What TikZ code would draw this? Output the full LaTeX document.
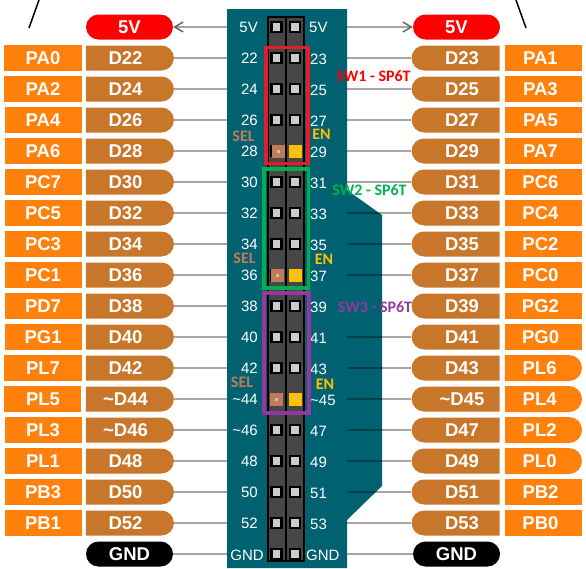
\documentclass[tikz,border=0pt]{standalone}
\usepackage{fontspec}
\setmainfont{Liberation Sans}
\newfontfamily\swfont{Carlito}
\usetikzlibrary{positioning,arrows.meta,shapes.misc}
\definecolor{board}{RGB}{0,98,112}
\definecolor{dpin}{RGB}{200,118,42}
\definecolor{port}{RGB}{255,128,10}
\definecolor{selc}{RGB}{192,124,88}
\definecolor{enc}{RGB}{255,192,0}
\definecolor{swr}{RGB}{228,28,44}
\definecolor{swg}{RGB}{0,176,80}
\definecolor{swp}{RGB}{148,55,160}
\tikzset{
  pt/.style={fill=port, text=white, font=\fontsize{18.5}{18}\selectfont\bfseries, inner sep=0pt, minimum width=77pt, minimum height=26pt},
  prt/.style={pt, execute at begin node=\hspace*{-6pt}},
  ptr/.style={rounded rectangle, rounded rectangle west arc=none, fill=port, text=white, font=\fontsize{18.5}{18}\selectfont\bfseries, inner sep=0pt, minimum width=77pt, minimum height=26pt, execute at begin node=\hspace*{-6pt}},
  dl/.style={rounded rectangle, rounded rectangle west arc=none, fill=dpin, text=white, font=\fontsize{18.5}{18}\selectfont\bfseries, inner sep=0pt, minimum width=88pt, minimum height=25pt, execute at begin node=\hspace*{-7pt}},
  dr/.style={rounded rectangle, rounded rectangle east arc=none, fill=dpin, text=white, font=\fontsize{18.5}{18}\selectfont\bfseries, inner sep=0pt, minimum width=88pt, minimum height=25pt, execute at begin node=\hspace*{11pt}},
  pw/.style={rounded rectangle, text=white, font=\fontsize{18.5}{18}\selectfont\bfseries, inner sep=0pt, minimum width=87pt, minimum height=25pt},
  num/.style={text=white, font=\fontsize{15}{15}\selectfont, inner sep=0pt},
  pinb/.style={draw=black, line width=2.5pt, fill=black!20, inner sep=0pt, minimum size=10pt},
  pad/.style={inner sep=0pt, minimum size=13pt},
  dotb/.style={fill=black!25, inner sep=0pt, minimum size=3pt},
  strip/.style={draw=black, line width=1.5pt, fill=black!72},
  sw/.style={line width=3.5pt},
  swt/.style={font=\swfont\fontsize{16}{16}\selectfont\bfseries, inner sep=0pt},
  wire/.style={draw=black!35, line width=1.5pt},
  wb/.style={wire, blend mode=multiply},
  pwa/.style={wire, -{Straight Barb[length=8.5pt,width=10pt,black!60]}},
}
\begin{document}
\begin{tikzpicture}[x=1pt,y=-1pt]
\useasboundingbox (0,0) rectangle (586,568);
% board and headers
\fill[board] (227,9) -- (347,9) -- (347,190) -- (382,215) -- (382,486) -- (347,520) -- (347,568) -- (227,568) -- cycle;
\draw[strip] (268,17) rectangle (285.5,561);
\draw[strip] (286.5,17) rectangle (304,561);
\foreach \i in {0,...,17} {
  \pgfmathtruncatemacro\y{27+31*\i}
  \node[pinb] (pa\i) at (276.5,\y) {};
  \node[pinb] (pb\i) at (295,\y) {};
}
% SEL and EN pads
\foreach \i/\xa in {4/278.5,8/277.5,12/276.5} {
  \pgfmathtruncatemacro\y{27+31*\i}
  \node[pad, fill=selc] (sl\i) at (\xa,\y) {};
  \node[dotb] (sd\i) at (sl\i.center) {};
  \node[pad, fill=enc] (en\i) at (295.5,\y) {};
  \node[dotb, minimum height=1.5pt] (ed\i) at (en\i.center) {};
}
% rows
\foreach \i/\na/\pa/\da/\nb/\db/\pb/\st in {
  1/22/PA0/D22/23/D23/PA1/prt, 2/24/PA2/D24/25/D25/PA3/prt, 3/26/PA4/D26/27/D27/PA5/prt,
  4/28/PA6/D28/29/D29/PA7/prt, 5/30/PC7/D30/31/D31/PC6/prt, 6/32/PC5/D32/33/D33/PC4/prt,
  7/34/PC3/D34/35/D35/PC2/prt, 8/36/PC1/D36/37/D37/PC0/prt, 9/38/PD7/D38/39/D39/PG2/prt,
  10/40/PG1/D40/41/D41/PG0/prt, 11/42/PL7/D42/43/D43/PL6/ptr,
  12/\textasciitilde 44/PL5/\textasciitilde D44/\textasciitilde 45/\textasciitilde D45/PL4/ptr,
  13/\textasciitilde 46/PL3/\textasciitilde D46/47/D47/PL2/ptr,
  14/48/PL1/D48/49/D49/PL0/ptr, 15/50/PB3/D50/51/D51/PB2/prt, 16/52/PB1/D52/53/D53/PB0/prt} {
  \pgfmathtruncatemacro\y{27+31*\i}
  \pgfmathtruncatemacro\z{28+31*\i}
  \node[dl] (dl\i) at (129,\y) {\da};
  \node[dr] (dr\i) at (456.5,\y) {\db};
  \node[pt, left=4pt of dl\i] (pl\i) {\pa};
  \node[\st, right=5pt of dr\i] (pr\i) {\pb};
  \node[num, anchor=east] (nl\i) at (258,\y) {\na};
  \node[num, anchor=west] (nr\i) at (310,\z) {\nb};
  \coordinate (el\i) at (227,\y);
  \coordinate (er\i) at (347,\y);
  \draw[wire] (dl\i.east) -- (el\i);
}
\foreach \i in {1,...,8,10,11,12,13,14,15,16} \draw[wb] (dr\i.west) -- (er\i);
% power rails
\node[pw, fill=red] (vl) at (129.5,27) {5V};
\node[pw, fill=red] (vr) at (456.5,27) {5V};
\node[pw, fill=black] (gl) at (129.5,554) {GND};
\node[pw, fill=black] (gr) at (456.5,554) {GND};
\node[num, anchor=east] (nv) at (258,27) {5V};
\node[num, anchor=west] (nw) at (309,27) {5V};
\node[num, anchor=east] (ng) at (264,555) {GND};
\node[num, anchor=west] (nh) at (306,555) {GND};
\coordinate (el0) at (227,27);
\coordinate (er0) at (347,27);
\coordinate (el17) at (227,554);
\coordinate (er17) at (347,554);
\draw[pwa] (el0) -- (vl.east);
\draw[pwa] (er0) -- (vr.west);
\draw[wire] (gl.east) -- (el17);
\draw[wire] (gr.west) -- (er17);
% switch frames
\draw[sw, draw=swr] (266,47.5) rectangle (308,163.5);
\draw[sw, draw=swg] (264,169) rectangle (308.5,288);
\draw[sw, draw=swp] (264,293) rectangle (309,413);
\node[swt, text=red] (s1) at (373.5,76) {SW1 - SP6T};
\node[swt, text=swg] (s2) at (369.5,190) {SW2 - SP6T};
\node[swt, text=swp] (s3) at (375,307) {SW3 - SP6T};
\node[swt, text=selc] (t1) at (243.5,136) {SEL};
\node[swt, text=selc] (t2) at (244.5,258) {SEL};
\node[swt, text=selc] (t3) at (242,382) {SEL};
\node[swt, text=enc] (u1) at (321.5,134) {EN};
\node[swt, text=enc] (u2) at (324,259) {EN};
\node[swt, text=enc] (u3) at (325,384) {EN};
% leader lines at the top
\coordinate (ta) at (39,0);
\coordinate (tb) at (29,28);
\coordinate (tc) at (516,0);
\coordinate (td) at (526,28);
\draw[line width=1.5pt] (ta) -- (tb);
\draw[line width=1.5pt] (tc) -- (td);
\end{tikzpicture}
\end{document}
